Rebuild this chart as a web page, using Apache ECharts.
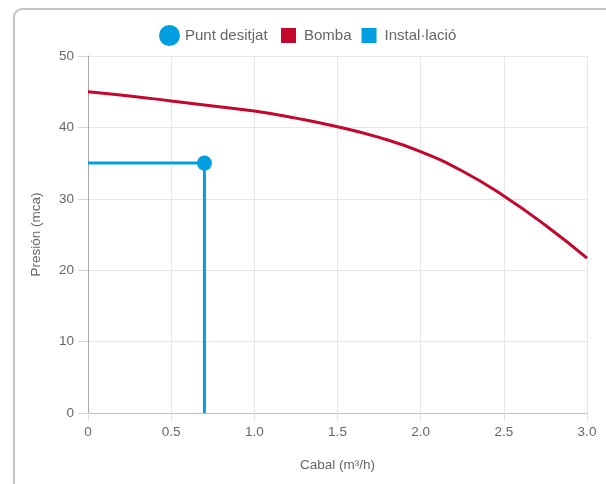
<!DOCTYPE html>
<html>
<head>
<meta charset="utf-8">
<script src="https://cdn.jsdelivr.net/npm/echarts@6/dist/echarts.min.js"></script>
<style>
  html, body { margin: 0; padding: 0; background: #fff; }
  #frame {
    position: absolute; left: 13px; top: 8px; width: 620px; height: 520px;
    border: 2px solid #c4c4c4; border-radius: 9px; box-sizing: border-box;
  }
  #chart { position: absolute; left: 0; top: 0; width: 606px; height: 484px; }
</style>
</head>
<body>
<div id="frame"></div>
<div id="chart"></div>
<script>
// corba de la bomba (cabal m3/h -> pressió mca)
const pumpFlow = [0, 0.25, 0.5, 0.75, 1.0, 1.25, 1.5, 1.75, 2.0, 2.25, 2.5, 2.75, 3.0]
const pumpPressure = [45, 44.4, 43.7, 43.0, 42.3, 41.3, 40.1, 38.6, 36.6, 33.9, 30.4, 26.3, 21.7]
// punt desitjat
const targetFlow = 0.7
const targetPressure = 35
const xTicks = { min: 0, max: 3, step: 0.5 }
const yTicks = { min: 0, max: 50, step: 10 }

const red = '#c4072c'
const blue = '#019fe0'
const textColor = '#666'
const font = 'Liberation Sans, Arial, sans-serif'

const chart = echarts.init(document.getElementById('chart'))

const installData = [[0, targetPressure], [targetFlow, targetPressure], [targetFlow, 0]]

const option = {
  animation: false,
  textStyle: { fontFamily: font },
  legend: [
    {
      data: ['Punt desitjat'],
      left: 154,
      top: 20,
      icon: 'circle',
      itemWidth: 21,
      itemHeight: 21,
      itemStyle: { opacity: 1 },
      textStyle: { color: textColor, fontSize: 15, fontFamily: font }
    },
    {
      data: ['Bomba', 'Instal·lació'],
      left: 276,
      top: 23,
      icon: 'rect',
      itemWidth: 15,
      itemHeight: 15,
      itemGap: 10,
      textStyle: { color: textColor, fontSize: 15, fontFamily: font, padding: [0, 0, 0, 3] }
    }
  ],
  grid: { left: 88, right: 19, top: 56, bottom: 71 },
  xAxis: {
    type: 'value',
    min: xTicks.min,
    max: xTicks.max,
    interval: xTicks.step,
    name: 'Cabal (m³/h)',
    nameLocation: 'middle',
    nameGap: 45,
    nameTextStyle: { color: textColor, fontSize: 13.5 },
    axisLine: { show: true, onZero: false, lineStyle: { color: '#bdbdbd', width: 1 } },
    axisTick: { show: true, length: 8, lineStyle: { color: '#e2e2e2' } },
    axisLabel: {
      color: textColor, fontSize: 13.5, margin: 12,
      formatter: v => v === 0 ? '0' : v.toFixed(1)
    },
    splitLine: { show: true, lineStyle: { color: '#e6e6e6' } }
  },
  yAxis: {
    type: 'value',
    min: yTicks.min,
    max: yTicks.max,
    interval: yTicks.step,
    name: 'Presión (mca)',
    nameLocation: 'middle',
    nameGap: 45,
    nameRotate: 90,
    nameTextStyle: { color: textColor, fontSize: 13.5 },
    axisLine: { show: true, lineStyle: { color: '#a8a8a8', width: 1 } },
    axisTick: { show: true, length: 10, lineStyle: { color: '#d6d6d6' } },
    axisLabel: { color: textColor, fontSize: 13.5, margin: 14 },
    splitLine: { show: true, lineStyle: { color: '#e6e6e6' } }
  },
  series: [
    {
      name: 'Bomba',
      type: 'line',
      smooth: true,
      showSymbol: false,
      data: pumpFlow.map((x, i) => [x, pumpPressure[i]]),
      lineStyle: { color: red, width: 3 },
      itemStyle: { color: red },
      z: 3
    },
    {
      name: 'Instal·lació',
      type: 'line',
      showSymbol: false,
      data: installData,
      lineStyle: { color: blue, width: 3 },
      itemStyle: { color: blue },
      z: 3
    },
    {
      name: 'Punt desitjat',
      type: 'scatter',
      symbolSize: 15,
      data: [[targetFlow, targetPressure]],
      itemStyle: { color: blue, opacity: 1 },
      z: 4
    }
  ]
}

chart.setOption(option)
</script>
</body>
</html>
